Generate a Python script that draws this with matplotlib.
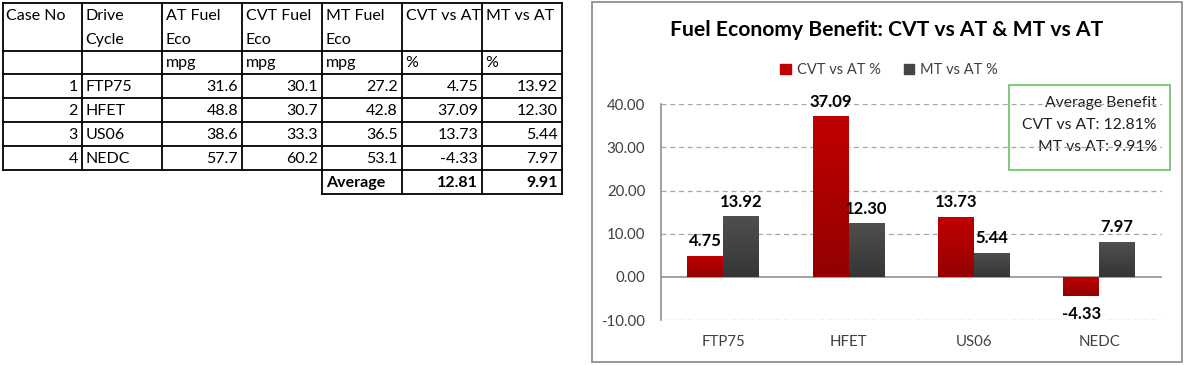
import numpy as np
import matplotlib
matplotlib.use("Agg")
import matplotlib.pyplot as plt
from matplotlib.patches import Rectangle, Patch
from matplotlib.colors import LinearSegmentedColormap

plt.rcParams['font.family'] = ['Lato', 'DejaVu Sans']

# table data
case_no = [1, 2, 3, 4]
cycles = ["FTP75", "HFET", "US06", "NEDC"]
at_fe = [31.6, 48.8, 38.6, 57.7]
cvt_fe = [30.1, 30.7, 33.3, 60.2]
mt_fe = [27.2, 42.8, 36.5, 53.1]
cvt_vs_at = [4.75, 37.09, 13.73, -4.33]
mt_vs_at = [13.92, 12.30, 5.44, 7.97]

headers = ["Case No", "Drive\nCycle", "AT Fuel\nEco", "CVT Fuel\nEco", "MT Fuel\nEco", "CVT vs AT", "MT vs AT"]
units = ["", "", "mpg", "mpg", "mpg", "%", "%"]

series_names = ["CVT vs AT %", "MT vs AT %"]
title = "Fuel Economy Benefit: CVT vs AT & MT vs AT"

cvt_avg = np.mean(cvt_vs_at)
mt_avg = np.mean(mt_vs_at)

W, H = 1184, 365
fig = plt.figure(figsize=(W / 100, H / 100), dpi=100)

# background axes in pixel coords for the table and frames
bg = fig.add_axes([0, 0, 1, 1])
bg.set_xlim(0, W)
bg.set_ylim(H, 0)
bg.axis('off')

col_x = [2.7, 82, 162, 242, 322, 402, 482, 562]
row_y = [2.7, 50.7, 74.3, 98.3, 122.3, 146.3, 170.3]
avg_bottom = 194
lw_tab = 1.3

for y in row_y:
    bg.plot([col_x[0], col_x[-1]], [y, y], color='black', lw=lw_tab)
for x in col_x:
    bg.plot([x, x], [row_y[0], row_y[-1]], color='black', lw=lw_tab)
# average row
bg.plot([col_x[4], col_x[-1]], [avg_bottom, avg_bottom], color='black', lw=lw_tab)
for x in col_x[4:]:
    bg.plot([x, x], [row_y[-1], avg_bottom], color='black', lw=lw_tab)

fs_tab = 11.5
for i, h in enumerate(headers):
    for j, line in enumerate(h.split("\n")):
        bg.text(col_x[i] + 3.5, 16 + j * 24, line, ha='left', va='center', fontsize=fs_tab)
    if units[i]:
        bg.text(col_x[i] + 3.5, 63, units[i], ha='left', va='center', fontsize=fs_tab)

for r in range(len(case_no)):
    yc = (row_y[r + 2] + row_y[r + 3]) / 2 + 1
    vals = [str(case_no[r]), None, f"{at_fe[r]:.1f}", f"{cvt_fe[r]:.1f}", f"{mt_fe[r]:.1f}",
            f"{cvt_vs_at[r]:.2f}", f"{mt_vs_at[r]:.2f}"]
    for i, v in enumerate(vals):
        if v is not None:
            bg.text(col_x[i + 1] - 4, yc, v, ha='right', va='center', fontsize=fs_tab)
    bg.text(col_x[1] + 3.5, yc, cycles[r], ha='left', va='center', fontsize=fs_tab)

ya = (row_y[-1] + avg_bottom) / 2 + 1
bg.text(col_x[4] + 4, ya, "Average", ha='left', va='center', fontsize=fs_tab, weight='bold')
bg.text(col_x[6] - 4, ya, f"{cvt_avg:.2f}", ha='right', va='center', fontsize=fs_tab, weight='bold')
bg.text(col_x[7] - 4, ya, f"{mt_avg:.2f}", ha='right', va='center', fontsize=fs_tab, weight='bold')

# chart frame
bg.add_patch(Rectangle((591.7, 2.3), 590, 359.4, fill=False, ec='#868686', lw=1.2))

# chart
left, right, top, bottom = 660.7, 1161.7, 104.3, 320
ax = fig.add_axes([left / W, (H - bottom) / H, (right - left) / W, (bottom - top) / H])
ax.patch.set_alpha(0)

x = np.arange(len(cycles))
w = 0.287
red_cmap = LinearSegmentedColormap.from_list("r", ["#940000", "#c00000"])
grey_cmap = LinearSegmentedColormap.from_list("g", ["#353535", "#4f4f4f"])

b1 = ax.bar(x - w / 2, cvt_vs_at, w, color='#c00000', zorder=3)
b2 = ax.bar(x + w / 2, mt_vs_at, w, color='#454545', zorder=3)

grad = np.linspace(0, 1, 100)[:, None]
for bars, cm in [(b1, red_cmap), (b2, grey_cmap)]:
    for b in bars:
        x0, y0, bw, bh = b.get_x(), b.get_y(), b.get_width(), b.get_height()
        ylo, yhi = min(y0, y0 + bh), max(y0, y0 + bh)
        ax.imshow(grad, extent=[x0, x0 + bw, ylo, yhi], origin='lower', cmap=cm,
                  aspect='auto', zorder=3.5)

ax.set_xlim(-0.5, 3.5)
ax.set_ylim(-10, 40)

for gy in [-10, 10, 20, 30, 40]:
    ax.axhline(gy, color='#a6a6a6', lw=0.9, ls=(0, (4, 3)), zorder=1)
ax.axhline(0, color='#868686', lw=1.1, zorder=2)

for s in ['top', 'right', 'bottom']:
    ax.spines[s].set_visible(False)
ax.spines['left'].set_color('#868686')
ax.spines['left'].set_linewidth(1.1)

ax.set_yticks([-10, 0, 10, 20, 30, 40])
ax.set_yticklabels([f"{v:.2f}" for v in [-10, 0, 10, 20, 30, 40]])
ax.set_xticks(x)
ax.set_xticklabels(cycles)
ax.tick_params(axis='y', length=0, pad=11, labelsize=10.8, labelcolor='#404040')
ax.tick_params(axis='x', length=0, pad=11, labelsize=10.8, labelcolor='#404040')

for bars, vals in [(b1, cvt_vs_at), (b2, mt_vs_at)]:
    for b, v in zip(bars, vals):
        off = 11 if v >= 0 else -13
        ax.annotate(f"{v:.2f}", (b.get_x() + b.get_width() / 2, v), xytext=(0, off),
                    textcoords='offset points', ha='center', va='center',
                    fontsize=12, weight='bold', zorder=5)

fig.text(886.7 / W, (H - 30) / H, title, ha='center', va='center', fontsize=15.2, weight='bold')

handles = [Patch(color='#c00000'), Patch(color='#454545')]
fig.legend(handles, series_names, loc='center', bbox_to_anchor=(889 / W, (H - 70) / H),
           ncol=2, frameon=False, handlelength=0.7, handleheight=0.7, handletextpad=0.4,
           columnspacing=1.6, fontsize=10.5, labelcolor='#404040')

# average benefit box
bg.add_patch(Rectangle((1009, 85), 161, 85, fill=False, ec='#6cbf63', lw=1.2))
box_lines = ["Average Benefit", f"CVT vs AT: {cvt_avg:.2f}%", f"MT vs AT: {mt_avg:.2f}%"]
for k, t in enumerate(box_lines):
    bg.text(1157, 103 + 22 * k, t, ha='right', va='center', fontsize=11.3, color='#202020')

fig.savefig("out.png", dpi=100)
